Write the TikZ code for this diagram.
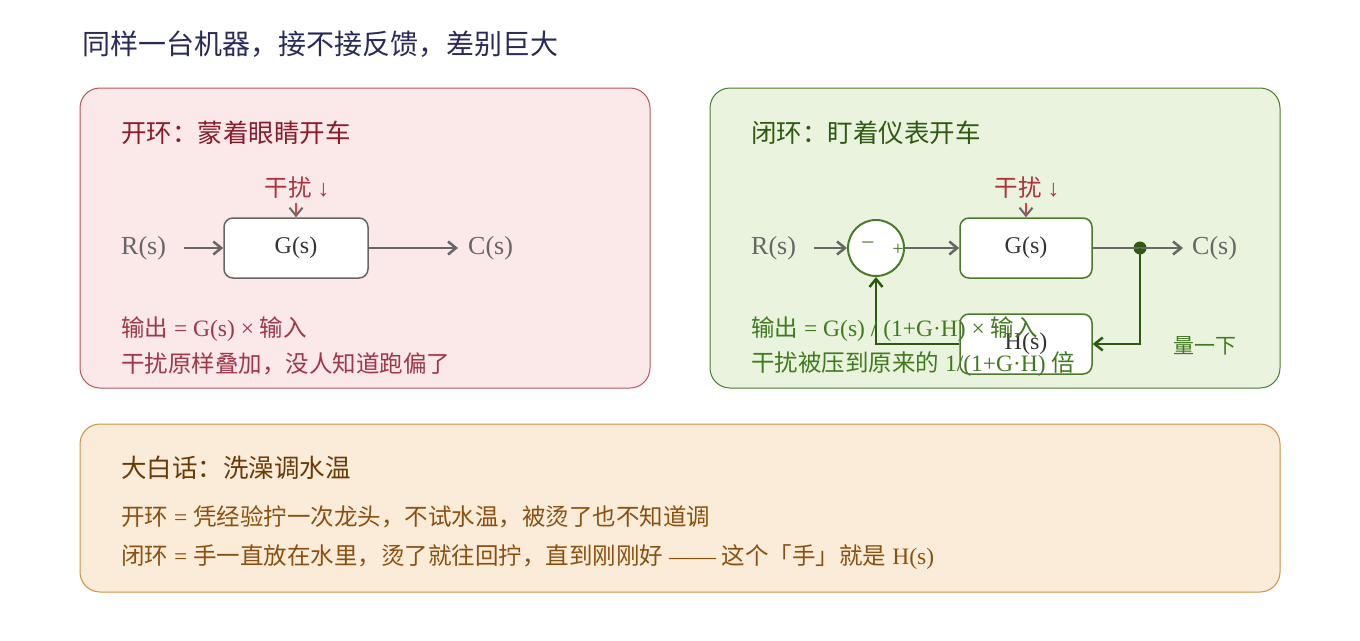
\documentclass[tikz,border=0pt]{standalone}
\usepackage{fontspec}
\setmainfont{Liberation Serif}
\newfontfamily\cjk{Noto Sans CJK SC}
\usetikzlibrary{arrows.meta}
\definecolor{ttl}{HTML}{2A2A5A}
\definecolor{rfill}{HTML}{FBE9EA}\definecolor{rline}{HTML}{B5565F}\definecolor{rtxt}{HTML}{8B1A2A}\definecolor{rtxt2}{HTML}{A03648}
\definecolor{gfill}{HTML}{EAF3DE}\definecolor{gline}{HTML}{4A7A2A}\definecolor{gtxt}{HTML}{2D5A10}\definecolor{gtxt2}{HTML}{3F7A1E}
\definecolor{ofill}{HTML}{FBECD9}\definecolor{oline}{HTML}{D09040}\definecolor{otxt}{HTML}{6A3A05}\definecolor{otxt2}{HTML}{8A5010}
\definecolor{gr}{HTML}{666666}\definecolor{dist}{HTML}{B0303A}
\newcommand{\zh}[1]{{\cjk #1}}
\begin{document}
\begin{tikzpicture}[x=1pt,y=-1pt,
 panel/.style={rounded corners=20pt,line width=1pt},
 blk/.style={draw,rounded corners=9pt,fill=white,line width=1.5pt,minimum width=#1,minimum height=60pt,inner sep=0pt,font=\fontsize{24}{26}\selectfont,text=black!80},
 lbl/.style={anchor=west,inner sep=0pt,font=\fontsize{23.5}{27}\selectfont},
 arr/.style={-{Straight Barb[length=8pt,width=13pt]},line width=2.5pt,gr}]
\useasboundingbox (0,0) rectangle (1360,640);
\fill[white] (0,0) rectangle (1360,640);
\node[lbl,text=ttl,font=\fontsize{28}{32}\selectfont] (t) at (82,44) {\zh{同样一台机器，接不接反馈，差别巨大}};
% red panel
\draw[panel,fill=rfill,draw=rline] (80,88) rectangle (650,388);
\node[lbl,text=rtxt,font=\fontsize{25.5}{30}\selectfont] (rt) at (121,133) {\zh{开环：蒙着眼睛开车}};
\node[lbl,text=gr,font=\fontsize{26}{30}\selectfont] (r1) at (121,248) {R(s)};
\node[blk=144pt,draw=gr] (g1) at (296,248) {G(s)};
\node[lbl,text=gr,font=\fontsize{26}{30}\selectfont] (c1) at (468,248) {C(s)};
\coordinate (r1e) at (184,248); \coordinate (c1e) at (458,248);
\draw[arr] (r1e) -- (g1.west);
\draw[arr] (g1.east) -- (c1e);
\node[text=dist,inner sep=0pt,font=\fontsize{23.5}{27}\selectfont] (d1) at (297,188) {\zh{干扰} ↓};
\coordinate (d1s) at (296,204);
\draw[arr,line width=2pt] (d1s) -- (g1.north);
\draw[red!80,line width=2pt] (296,203) -- (296,214);
\node[lbl,text=rtxt2] (rl1) at (121,329) {\zh{输出} = G(s) × \zh{输入}};
\node[lbl,text=rtxt2] (rl2) at (121,364) {\zh{干扰原样叠加，没人知道跑偏了}};
% green panel
\draw[panel,fill=gfill,draw=gline] (710,88) rectangle (1280,388);
\node[lbl,text=gtxt,font=\fontsize{25.5}{30}\selectfont] (gt) at (751,133) {\zh{闭环：盯着仪表开车}};
\node[lbl,text=gr,font=\fontsize{26}{30}\selectfont] (r2) at (751,248) {R(s)};
\coordinate (r2e) at (814,248);
\node[circle,draw=gline,fill=white,line width=2pt,minimum size=56pt,inner sep=0pt] (s) at (876,248) {};
\node[text=gline,font=\fontsize{24}{26}\selectfont,inner sep=0pt] (mn) at (868,246) {−};
\node[text=gtxt2,font=\fontsize{20}{22}\selectfont,inner sep=0pt] (pl) at (898,250) {+};
\node[blk=132pt,draw=gline] (g2) at (1026,248) {G(s)};
\node[blk=132pt,draw=gline] (h2) at (1026,344) {H(s)};
\node[lbl,text=gr,font=\fontsize{26}{30}\selectfont] (c2) at (1192,248) {C(s)};
\coordinate (c2e) at (1183,248);
\fill[gtxt] (1140,248) circle (6.5pt) coordinate (dot);
\draw[arr] (r2e) -- (s.west);
\draw[arr] (s.east) -- (g2.west);
\draw[gr,line width=2.5pt] (g2.east) -- (dot);
\draw[arr] (dot) -- (c2e);
\draw[arr,gtxt] (dot) |- (h2.east);
\draw[arr,gtxt] (h2.west) -| (s.south);
\node[text=dist,inner sep=0pt,font=\fontsize{23.5}{27}\selectfont] (d2) at (1027,188) {\zh{干扰} ↓};
\coordinate (d2s) at (1026,204);
\draw[arr,line width=2pt] (d2s) -- (g2.north);
\draw[red!80,line width=2pt] (1026,203) -- (1026,214);
\node[lbl,text=gtxt2,font=\fontsize{21}{24}\selectfont] (m) at (1173,346) {\zh{量一下}};
\node[lbl,text=gtxt2] (gl1) at (751,329) {\zh{输出} = G(s) / (1+G·H) × \zh{输入}};
\node[lbl,text=gtxt2] (gl2) at (751,364) {\zh{干扰被压到原来的} 1/(1+G·H) \zh{倍}};
% orange panel
\draw[panel,fill=ofill,draw=oline] (80,424) rectangle (1280,592);
\node[lbl,text=otxt,font=\fontsize{25.5}{30}\selectfont] (ot) at (121,468) {\zh{大白话：洗澡调水温}};
\node[lbl,text=otxt2] (o1) at (121,517) {\zh{开环} = \zh{凭经验拧一次龙头，不试水温，被烫了也不知道调}};
\node[lbl,text=otxt2] (o2) at (121,557) {\zh{闭环} = \zh{手一直放在水里，烫了就往回拧，直到刚刚好} —— \zh{这个「手」就是} H(s)};
\end{tikzpicture}
\end{document}
